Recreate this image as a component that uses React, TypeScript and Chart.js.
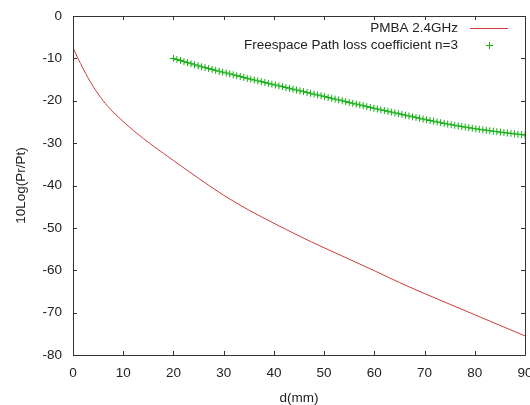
import React, { useEffect, useRef } from "react";
import { Chart, registerables } from "chart.js";

Chart.register(...registerables);

const pmbaLabel = "PMBA 2.4GHz";
const freeLabel = "Freespace Path loss coefficient n=3";

const pmbaX = [0, 1, 2, 3, 4, 5, 6, 7, 8, 9, 10, 12, 14, 16, 18, 20, 25, 30, 35, 40, 45, 50, 55, 60, 65, 70, 75, 80, 85, 90];
const pmbaY = [-7.5, -10.0, -12.4, -14.6, -16.6, -18.4, -20.0, -21.4, -22.7, -23.8, -24.9, -27.0, -28.9, -30.7, -32.4, -34.1, -38.3, -42.3, -45.8, -48.9, -51.9, -54.7, -57.4, -60.1, -62.9, -65.5, -68.0, -70.5, -73.0, -75.5];

const freeX = [
  20.0, 20.7, 21.4, 22.1, 22.8, 23.5, 24.2, 24.9, 25.6, 26.3,
  27.0, 27.7, 28.4, 29.1, 29.8, 30.5, 31.2, 31.9, 32.6, 33.3,
  34.0, 34.7, 35.4, 36.1, 36.8, 37.5, 38.2, 38.9, 39.6, 40.3,
  41.0, 41.7, 42.4, 43.1, 43.8, 44.5, 45.2, 45.9, 46.6, 47.3,
  48.0, 48.7, 49.4, 50.1, 50.8, 51.5, 52.2, 52.9, 53.6, 54.3,
  55.0, 55.7, 56.4, 57.1, 57.8, 58.5, 59.2, 59.9, 60.6, 61.3,
  62.0, 62.7, 63.4, 64.1, 64.8, 65.5, 66.2, 66.9, 67.6, 68.3,
  69.0, 69.7, 70.4, 71.1, 71.8, 72.5, 73.2, 73.9, 74.6, 75.3,
  76.0, 76.7, 77.4, 78.1, 78.8, 79.5, 80.2, 80.9, 81.6, 82.3,
  83.0, 83.7, 84.4, 85.1, 85.8, 86.5, 87.2, 87.9, 88.6, 89.3,
  90.0,
];
const freeY = [
  -10.00, -10.25, -10.50, -10.76, -11.01, -11.26, -11.51, -11.76, -11.98, -12.19,
  -12.40, -12.61, -12.82, -13.03, -13.24, -13.45, -13.66, -13.87, -14.08, -14.29,
  -14.50, -14.71, -14.91, -15.11, -15.30, -15.50, -15.70, -15.89, -16.09, -16.28,
  -16.48, -16.68, -16.87, -17.07, -17.26, -17.46, -17.66, -17.85, -18.05, -18.24,
  -18.44, -18.64, -18.83, -19.03, -19.22, -19.42, -19.62, -19.81, -20.01, -20.20,
  -20.40, -20.60, -20.79, -20.99, -21.18, -21.38, -21.58, -21.77, -21.96, -22.14,
  -22.32, -22.50, -22.68, -22.87, -23.05, -23.23, -23.41, -23.59, -23.78, -23.96,
  -24.14, -24.32, -24.50, -24.66, -24.83, -25.00, -25.17, -25.34, -25.50, -25.66,
  -25.80, -25.94, -26.08, -26.22, -26.36, -26.50, -26.63, -26.74, -26.86, -26.97,
  -27.08, -27.19, -27.30, -27.41, -27.51, -27.61, -27.71, -27.81, -27.90, -28.00,
  -28.10,
];

const xMin = 0;
const xMax = 90;
const xStep = 10;
const yMin = -80;
const yMax = 0;
const yStep = 10;
const xTitle = "d(mm)";
const yTitle = "10Log(Pr/Pt)";

const FONT = "'Liberation Sans', Arial, sans-serif";
const RED = "#d03a3a";
const GREEN = "#14b014";
const FRAME = "#333333";

const framePlugin = {
  id: "gnuFrame",
  afterDatasetsDraw(chart: any) {
    const { ctx, chartArea, scales } = chart;
    const { left, right, top, bottom } = chartArea;
    ctx.save();
    ctx.strokeStyle = FRAME;
    ctx.lineWidth = 1;
    ctx.beginPath();
    ctx.rect(Math.round(left) + 0.5, Math.round(top) + 0.5, Math.round(right - left), Math.round(bottom - top));
    ctx.stroke();
    const tl = 4;
    ctx.beginPath();
    scales.x.ticks.forEach((t: any) => {
      const px = Math.round(scales.x.getPixelForValue(t.value)) + 0.5;
      ctx.moveTo(px, bottom);
      ctx.lineTo(px, bottom - tl);
      ctx.moveTo(px, top);
      ctx.lineTo(px, top + tl);
    });
    scales.y.ticks.forEach((t: any) => {
      const py = Math.round(scales.y.getPixelForValue(t.value)) + 0.5;
      ctx.moveTo(left, py);
      ctx.lineTo(left + tl, py);
      ctx.moveTo(right, py);
      ctx.lineTo(right - tl, py);
    });
    ctx.stroke();

    // legend inside top right
    ctx.font = `13.5px ${FONT}`;
    ctx.fillStyle = "#222";
    ctx.textAlign = "right";
    ctx.textBaseline = "middle";
    const textRight = right - 67;
    const y1 = top + 12;
    const y2 = top + 29;
    ctx.fillText(chart.data.datasets[0].label, textRight, y1);
    ctx.fillText(chart.data.datasets[1].label, textRight, y2);
    ctx.strokeStyle = RED;
    ctx.beginPath();
    ctx.moveTo(textRight + 12, y1 + 0.5);
    ctx.lineTo(textRight + 50, y1 + 0.5);
    ctx.stroke();
    const cx = textRight + 31.5;
    ctx.strokeStyle = GREEN;
    ctx.beginPath();
    ctx.moveTo(cx - 3.5, y2 + 0.5);
    ctx.lineTo(cx + 3.5, y2 + 0.5);
    ctx.moveTo(cx, y2 - 3);
    ctx.lineTo(cx, y2 + 4);
    ctx.stroke();
    ctx.restore();
  },
};

export default function App() {
  const ref = useRef<HTMLCanvasElement | null>(null);
  useEffect(() => {
    if (!ref.current) return;
    const chart = new Chart(ref.current, {
      type: "scatter",
      data: {
        datasets: [
          {
            label: pmbaLabel,
            data: pmbaX.map((x, i) => ({ x, y: pmbaY[i] })),
            showLine: true,
            borderColor: RED,
            borderWidth: 1,
            pointRadius: 0,
            cubicInterpolationMode: "monotone",
            fill: false,
          },
          {
            label: freeLabel,
            data: freeX.map((x, i) => ({ x, y: freeY[i] })),
            showLine: false,
            pointStyle: "cross",
            pointRadius: 3.5,
            borderColor: GREEN,
            backgroundColor: GREEN,
            pointBorderWidth: 1,
          },
        ],
      },
      plugins: [framePlugin],
      options: {
        animation: false,
        responsive: false,
        maintainAspectRatio: false,
        layout: { padding: { top: 16, right: 4, left: 0, bottom: 0 } },
        plugins: {
          legend: { display: false },
          tooltip: { enabled: false },
        },
        scales: {
          x: {
            type: "linear",
            min: xMin,
            max: xMax,
            grid: { display: false, drawTicks: false },
            border: { display: false },
            ticks: {
              stepSize: xStep,
              padding: 10,
              color: "#222",
              font: { size: 13.5, family: FONT },
              maxRotation: 0,
            },
            title: {
              display: true,
              text: xTitle,
              color: "#222",
              font: { size: 13.5, family: FONT, lineHeight: 1 },
              padding: { top: 0, bottom: 0 },
            },
            afterFit(scale: any) {
              scale.height = 50;
              scale.paddingLeft = 0;
              scale.paddingRight = 0;
            },
          },
          y: {
            type: "linear",
            min: yMin,
            max: yMax,
            grid: { display: false, drawTicks: false },
            border: { display: false },
            ticks: {
              stepSize: yStep,
              padding: 11,
              color: "#222",
              font: { size: 13.5, family: FONT },
            },
            title: {
              display: true,
              text: yTitle,
              color: "#222",
              font: { size: 13.5, family: FONT, lineHeight: 1 },
              padding: { top: 15, bottom: 0 },
            },
            afterFit(scale: any) {
              scale.width = 73;
              scale.paddingTop = 0;
              scale.paddingBottom = 0;
            },
          },
        },
      },
    });
    return () => chart.destroy();
  }, []);
  return (
    <div style={{ position: "fixed", left: 0, top: 0, width: 530, height: 405, background: "#fff" }}>
      <canvas ref={ref} width={530} height={405} style={{ width: 530, height: 405, display: "block" }} />
    </div>
  );
}
